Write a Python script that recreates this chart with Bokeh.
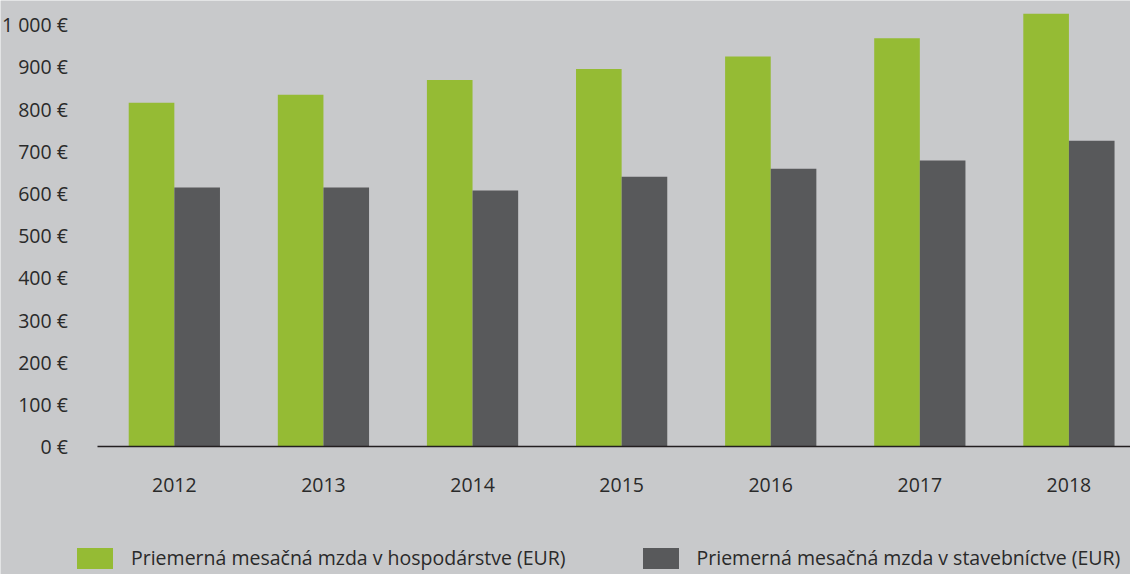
from bokeh.plotting import figure
from bokeh.models import FixedTicker, Legend, LegendItem, Range1d, ColumnDataSource
from bokeh.transform import dodge
from bokeh.embed import file_html
from bokeh.resources import INLINE

years = ["2012", "2013", "2014", "2015", "2016", "2017", "2018"]
hospodarstvo = [815, 834, 869, 895, 925, 968, 1026]
stavebnictvo = [614, 614, 607, 640, 659, 678, 725]
y_ticks = [0, 100, 200, 300, 400, 500, 600, 700, 800, 900, 1000]
y_tick_labels = ["0 €", "100 €", "200 €", "300 €", "400 €", "500 €", "600 €",
                 "700 €", "800 €", "900 €", "1 000 €"]
series_names = ["Priemerná mesačná mzda v hospodárstve (EUR)",
                "Priemerná mesačná mzda v stavebníctve (EUR)"]

BG = "#c8c9cb"
GREEN = "#95bb34"
GRAY = "#58595b"
TXT = "#2a2a2a"
FONT = "Open Sans"
FS = "19.5px"
FS_LEG = "19.5px"

idx = list(range(len(years)))
src = ColumnDataSource(dict(x=idx, a=hospodarstvo, b=stavebnictvo))

X0, X1 = -0.513, 6.413   # extent of the plotting area (axis line)
p = figure(width=1130, height=574, output_backend="svg", toolbar_location=None,
           x_range=Range1d(-1.166, X1), y_range=Range1d(-303.2, 1057.6),
           min_border=0)
p.background_fill_color = BG
p.border_fill_color = BG
p.outline_line_color = None
p.grid.grid_line_color = None

w = 0.306
r1 = p.vbar(x=dodge("x", -w / 2, range=p.x_range), top="a", width=w, source=src,
            fill_color=GREEN, line_color=None)
r2 = p.vbar(x=dodge("x", w / 2, range=p.x_range), top="b", width=w, source=src,
            fill_color=GRAY, line_color=None)

xa = p.xaxis[0]
xa.fixed_location = 0
xa.bounds = (X0, X1)
xa.ticker = FixedTicker(ticks=idx)
xa.major_label_overrides = {i: y for i, y in zip(idx, years)}
xa.axis_line_color = "#231f20"
xa.axis_line_width = 1.5
xa.major_tick_line_color = None
xa.minor_tick_line_color = None
xa.major_tick_out = 0
xa.major_tick_in = 0
xa.major_label_standoff = 31
xa.major_label_text_font = FONT
xa.major_label_text_font_size = FS
xa.major_label_text_color = TXT

ya = p.yaxis[0]
ya.fixed_location = X0
ya.ticker = FixedTicker(ticks=y_ticks)
ya.major_label_overrides = {t: l for t, l in zip(y_ticks, y_tick_labels)}
ya.axis_line_color = None
ya.major_tick_line_color = None
ya.minor_tick_line_color = None
ya.major_tick_out = 0
ya.major_tick_in = 0
ya.major_label_standoff = 30
ya.major_label_text_font = FONT
ya.major_label_text_font_size = FS
ya.major_label_text_color = TXT

legend = Legend(items=[LegendItem(label=series_names[0], renderers=[r1]),
                       LegendItem(label=series_names[1], renderers=[r2])],
                orientation="horizontal", location=(72, 3),
                glyph_width=45, glyph_height=26, label_height=26,
                label_standoff=14, spacing=72, padding=0, margin=0,
                border_line_color=None, background_fill_alpha=0,
                label_text_font=FONT, label_text_font_size=FS_LEG,
                label_text_color=TXT)
p.add_layout(legend, "center")

html = file_html(p, INLINE)
html = html.replace("<body>", '<body style="background:%s">' % BG, 1)
open("out.html", "w").write(html)
